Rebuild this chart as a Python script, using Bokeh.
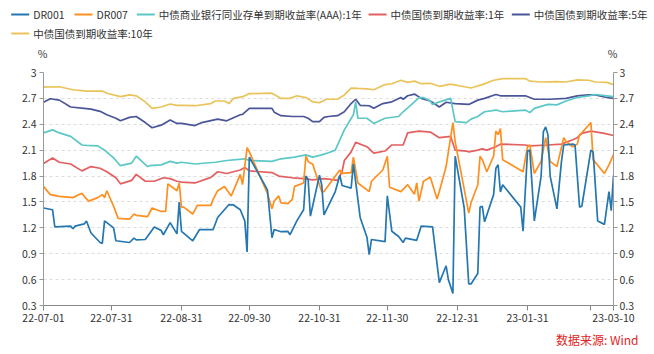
import pandas as pd
from bokeh.plotting import figure
from bokeh.layouts import column
from bokeh.models import Range1d, LinearAxis, FixedTicker, NumeralTickFormatter
from bokeh.core.properties import value
from bokeh.embed import file_html
from bokeh.resources import INLINE

# ---------------- data ----------------
cgb10_dates = ["2022-07-01","2022-07-08","2022-07-14","2022-07-20","2022-07-27","2022-07-29","2022-08-04","2022-08-08",
    "2022-08-11","2022-08-15","2022-08-18","2022-08-22","2022-08-26","2022-08-29","2022-08-31","2022-09-06","2022-09-13",
    "2022-09-15","2022-09-19","2022-09-21","2022-09-23","2022-09-27","2022-09-30","2022-10-10","2022-10-11","2022-10-14",
    "2022-10-18","2022-10-21","2022-10-25","2022-10-28","2022-10-31","2022-11-03","2022-11-08","2022-11-11","2022-11-14",
    "2022-11-17","2022-11-21","2022-11-24","2022-11-29","2022-12-02","2022-12-06","2022-12-09","2022-12-12","2022-12-15",
    "2022-12-19","2022-12-23","2022-12-28","2023-01-03","2023-01-06","2023-01-11","2023-01-16","2023-01-20","2023-01-30",
    "2023-02-01","2023-02-06","2023-02-13","2023-02-17","2023-02-22","2023-02-27","2023-03-02","2023-03-07","2023-03-10"]
cgb10_vals = [2.83,2.835,2.80,2.785,2.785,2.76,2.72,2.74,2.73,2.66,2.585,2.60,2.635,2.62,2.62,2.615,2.64,2.67,2.67,2.64,
    2.70,2.72,2.755,2.76,2.745,2.70,2.70,2.73,2.71,2.66,2.65,2.69,2.69,2.74,2.82,2.815,2.81,2.80,2.86,2.87,2.91,2.885,
    2.90,2.87,2.875,2.84,2.865,2.835,2.82,2.86,2.91,2.93,2.93,2.90,2.89,2.895,2.89,2.915,2.91,2.89,2.885,2.86]

cgb5_dates = ["2022-07-01","2022-07-04","2022-07-08","2022-07-13","2022-07-19","2022-07-22","2022-07-26","2022-07-29",
    "2022-08-02","2022-08-04","2022-08-08","2022-08-11","2022-08-15","2022-08-18","2022-08-22","2022-08-26","2022-08-29",
    "2022-08-31","2022-09-06","2022-09-09","2022-09-16","2022-09-20","2022-09-26","2022-09-27","2022-09-30","2022-10-10",
    "2022-10-11","2022-10-14","2022-10-19","2022-10-24","2022-10-26","2022-10-28","2022-10-31","2022-11-02","2022-11-04",
    "2022-11-08","2022-11-11","2022-11-14","2022-11-16","2022-11-18","2022-11-22","2022-11-24","2022-11-28","2022-12-02",
    "2022-12-06","2022-12-07","2022-12-09","2022-12-12","2022-12-15","2022-12-19","2022-12-23","2022-12-26","2022-12-30",
    "2023-01-05","2023-01-09","2023-01-12","2023-01-17","2023-01-19","2023-01-30","2023-02-03","2023-02-10","2023-02-17",
    "2023-02-22","2023-02-27","2023-03-02","2023-03-07","2023-03-10"]
cgb5_vals = [2.654,2.696,2.68,2.60,2.585,2.575,2.55,2.51,2.47,2.44,2.48,2.49,2.42,2.36,2.39,2.45,2.41,2.41,2.385,2.42,
    2.46,2.44,2.51,2.515,2.585,2.585,2.54,2.50,2.49,2.49,2.47,2.43,2.43,2.48,2.49,2.50,2.545,2.64,2.69,2.62,2.615,2.585,
    2.64,2.66,2.71,2.69,2.73,2.75,2.70,2.67,2.60,2.655,2.64,2.63,2.68,2.70,2.745,2.73,2.73,2.69,2.69,2.70,2.73,2.74,
    2.74,2.71,2.70]

ncd_dates = ["2022-07-01","2022-07-05","2022-07-08","2022-07-13","2022-07-18","2022-07-20","2022-07-25","2022-07-28",
    "2022-08-01","2022-08-04","2022-08-09","2022-08-11","2022-08-16","2022-08-17","2022-08-22","2022-08-26","2022-08-29",
    "2022-08-31","2022-09-06","2022-09-15","2022-09-20","2022-09-28","2022-09-30","2022-10-10","2022-10-14","2022-10-20",
    "2022-10-25","2022-10-28","2022-11-01","2022-11-04","2022-11-07","2022-11-11","2022-11-15","2022-11-16","2022-11-17",
    "2022-11-21","2022-11-24","2022-11-29","2022-12-05","2022-12-07","2022-12-12","2022-12-14","2022-12-16","2022-12-19",
    "2022-12-20","2022-12-23","2022-12-28","2022-12-30","2023-01-04","2023-01-06","2023-01-09","2023-01-10","2023-01-12",
    "2023-01-17","2023-01-20","2023-01-30","2023-02-01","2023-02-03","2023-02-09","2023-02-13","2023-02-17","2023-02-22",
    "2023-02-27","2023-03-02","2023-03-07","2023-03-10"]
ncd_vals = [2.30,2.335,2.30,2.26,2.16,2.155,2.15,2.10,2.01,1.92,1.95,2.03,1.91,1.92,1.93,1.97,1.95,1.96,1.94,1.96,1.98,
    2.00,1.98,1.97,2.00,2.02,2.045,2.02,2.045,2.07,2.10,2.335,2.51,2.66,2.47,2.47,2.41,2.47,2.49,2.545,2.66,2.71,2.71,
    2.67,2.63,2.66,2.70,2.43,2.42,2.46,2.49,2.51,2.545,2.565,2.545,2.565,2.535,2.585,2.63,2.625,2.67,2.71,2.73,2.745,
    2.73,2.72]

cgb1_dates = ["2022-07-01","2022-07-05","2022-07-08","2022-07-13","2022-07-18","2022-07-22","2022-07-26","2022-07-29",
    "2022-08-02","2022-08-04","2022-08-09","2022-08-11","2022-08-15","2022-08-19","2022-08-23","2022-08-26","2022-08-29",
    "2022-08-31","2022-09-06","2022-09-13","2022-09-16","2022-09-20","2022-09-26","2022-09-28","2022-09-30","2022-10-10",
    "2022-10-13","2022-10-19","2022-10-24","2022-10-28","2022-11-02","2022-11-04","2022-11-08","2022-11-10","2022-11-11",
    "2022-11-14","2022-11-16","2022-11-21","2022-11-24","2022-11-29","2022-12-02","2022-12-07","2022-12-09","2022-12-14",
    "2022-12-19","2022-12-23","2022-12-28","2022-12-30","2023-01-04","2023-01-05","2023-01-09","2023-01-11","2023-01-13",
    "2023-01-17","2023-01-19","2023-01-30","2023-02-01","2023-02-09","2023-02-15","2023-02-20","2023-02-22","2023-02-24",
    "2023-02-28","2023-03-06","2023-03-10"]
cgb1_vals = [1.946,2.01,1.96,1.94,1.86,1.91,1.89,1.85,1.78,1.71,1.75,1.82,1.74,1.74,1.78,1.77,1.74,1.73,1.72,1.785,1.85,
    1.83,1.87,1.90,1.86,1.84,1.80,1.78,1.77,1.755,1.77,1.765,1.75,1.85,1.98,2.08,2.19,2.14,2.065,2.09,2.16,2.16,2.30,
    2.32,2.31,2.245,2.26,2.10,2.09,2.08,2.10,2.115,2.10,2.14,2.17,2.16,2.15,2.16,2.17,2.22,2.245,2.295,2.32,2.295,2.27]

dr007_dates = ["2022-07-01","2022-07-04","2022-07-08","2022-07-14","2022-07-18","2022-07-19","2022-07-21","2022-07-25",
    "2022-07-27","2022-07-28","2022-07-29","2022-08-01","2022-08-03","2022-08-08","2022-08-10","2022-08-11","2022-08-16",
    "2022-08-18","2022-08-22","2022-08-24","2022-08-25","2022-08-29","2022-08-30","2022-08-31","2022-09-01","2022-09-05",
    "2022-09-07","2022-09-13","2022-09-14","2022-09-16","2022-09-19","2022-09-22","2022-09-26","2022-09-27","2022-09-29",
    "2022-09-30","2022-10-08","2022-10-10","2022-10-11","2022-10-13","2022-10-14","2022-10-17","2022-10-19","2022-10-20",
    "2022-10-24","2022-10-25","2022-10-26","2022-10-27","2022-10-28","2022-10-31","2022-11-01","2022-11-02","2022-11-09",
    "2022-11-10","2022-11-14","2022-11-15","2022-11-17","2022-11-22","2022-11-23","2022-11-28","2022-11-30","2022-12-01",
    "2022-12-06","2022-12-09","2022-12-12","2022-12-13","2022-12-14","2022-12-16","2022-12-19","2022-12-22","2022-12-23",
    "2022-12-26","2022-12-29","2022-12-30","2023-01-04","2023-01-05","2023-01-06","2023-01-09","2023-01-10","2023-01-11",
    "2023-01-13","2023-01-16","2023-01-17","2023-01-18","2023-01-19","2023-01-20","2023-01-29","2023-01-31","2023-02-01",
    "2023-02-03","2023-02-06","2023-02-08","2023-02-10","2023-02-13","2023-02-16","2023-02-17","2023-02-20","2023-02-22",
    "2023-02-23","2023-02-24","2023-02-28","2023-03-01","2023-03-06","2023-03-08","2023-03-10"]
dr007_vals = [1.68,1.585,1.565,1.55,1.60,1.565,1.51,1.55,1.585,1.55,1.63,1.45,1.31,1.30,1.36,1.345,1.33,1.43,1.39,1.39,
    1.71,1.63,1.72,1.44,1.44,1.36,1.46,1.46,1.53,1.63,1.68,1.57,1.82,1.70,2.13,2.08,1.60,1.42,1.51,1.57,1.49,1.48,1.53,
    1.68,1.72,2.03,1.97,1.95,1.94,1.70,1.62,1.62,1.87,1.83,1.84,2.02,1.72,1.62,1.74,1.87,2.03,1.67,1.62,1.70,1.59,1.72,
    1.51,1.74,1.785,1.535,1.62,1.91,2.42,2.20,1.51,1.37,1.49,1.70,2.03,1.99,1.85,2.03,2.32,2.28,2.35,1.99,1.85,2.14,2.16,
    1.83,1.97,2.245,1.97,1.91,2.245,2.20,2.14,2.17,2.28,2.30,2.42,1.99,1.83,1.93,2.05]

dr001_dates = ["2022-07-01","2022-07-05","2022-07-06","2022-07-13","2022-07-14","2022-07-15","2022-07-19","2022-07-20",
    "2022-07-22","2022-07-26","2022-07-27","2022-07-28","2022-08-01","2022-08-02","2022-08-08","2022-08-10","2022-08-11",
    "2022-08-15","2022-08-19","2022-08-22","2022-08-23","2022-08-26","2022-08-29","2022-08-30","2022-08-31","2022-09-05",
    "2022-09-08","2022-09-14","2022-09-16","2022-09-21","2022-09-23","2022-09-26","2022-09-28","2022-09-29","2022-09-30",
    "2022-10-08","2022-10-10","2022-10-11","2022-10-14","2022-10-17","2022-10-18","2022-10-21","2022-10-24","2022-10-25",
    "2022-10-26","2022-10-27","2022-10-31","2022-11-01","2022-11-02","2022-11-07","2022-11-09","2022-11-10","2022-11-14",
    "2022-11-15","2022-11-18","2022-11-21","2022-11-22","2022-11-23","2022-11-29","2022-11-30","2022-12-02","2022-12-05",
    "2022-12-07","2022-12-08","2022-12-13","2022-12-15","2022-12-20","2022-12-23","2022-12-26","2022-12-27","2022-12-29",
    "2022-12-30","2023-01-03","2023-01-05","2023-01-06","2023-01-09","2023-01-10","2023-01-11","2023-01-12","2023-01-16",
    "2023-01-17","2023-01-18","2023-01-19","2023-01-20","2023-01-28","2023-01-29","2023-01-31","2023-02-01","2023-02-03",
    "2023-02-06","2023-02-07","2023-02-08","2023-02-09","2023-02-10","2023-02-13","2023-02-15","2023-02-16","2023-02-20",
    "2023-02-21","2023-02-23","2023-02-24","2023-02-28","2023-03-01","2023-03-03","2023-03-06","2023-03-08","2023-03-09",
    "2023-03-10"]
dr001_vals = [1.43,1.41,1.21,1.22,1.19,1.22,1.245,1.28,1.14,1.03,1.02,1.28,1.20,1.05,1.03,1.08,1.06,1.065,1.21,1.17,1.12,
    1.26,1.13,1.50,1.16,1.05,1.18,1.18,1.32,1.47,1.465,1.41,1.28,0.92,2.02,1.64,1.085,1.18,1.155,1.16,1.12,1.28,1.41,1.80,
    1.76,1.335,1.81,1.70,1.35,1.62,1.81,1.69,1.66,1.94,1.32,1.09,0.89,1.065,1.04,1.57,1.16,1.10,1.03,1.08,1.055,1.22,1.21,
    0.565,0.76,0.60,0.44,2.03,1.43,0.55,0.55,0.67,1.44,1.45,1.27,1.585,1.89,1.93,1.615,1.70,1.44,1.16,2.09,2.10,1.28,1.80,
    2.315,2.37,2.28,1.80,1.42,1.97,2.16,2.17,2.16,1.44,1.45,2.10,2.08,1.28,1.24,1.62,1.40,1.81]

series_names = ["DR001", "DR007", "中债商业银行同业存单到期收益率(AAA):1年", "中债国债到期收益率:1年",
                "中债国债到期收益率:5年", "中债国债到期收益率:10年"]
y_ticks = [0.3, 0.6, 0.9, 1.2, 1.5, 1.8, 2.1, 2.4, 2.7, 3.0]
x_tick_dates = ["2022-07-01", "2022-07-31", "2022-08-31", "2022-09-30", "2022-10-31", "2022-11-30",
                "2022-12-31", "2023-01-31", "2023-02-28", "2023-03-10"]
x_tick_labels = ["22-07-01", "22-07-31", "22-08-31", "22-09-30", "22-10-31", "22-11-30",
                 "22-12-31", "23-01-31", "", "23-03-10"]
unit_text = "%"
source_text = "数据来源: Wind"

# ---------------- style / layout ----------------
colors = ["#2477B0", "#FF8F1F", "#5CC7C7", "#E45F5F", "#4B559A", "#EAC35A"]
FONT = "Noto Sans CJK SC"
W = 654
HEAD_H = 60          # header strip (legend + unit labels)
FOOT_H = 25          # footer strip (source)
MAIN_H = 354 - HEAD_H - FOOT_H
FL, FR = 43, 613     # frame left / right in canvas px
FT, FB = 72, 305     # frame top / bottom in canvas px


def strip(height):
    f = figure(width=W, height=height, x_range=Range1d(0, W), y_range=Range1d(height, 0),
               output_backend="svg", toolbar_location=None, frame_align=False,
               min_border_left=0, min_border_right=0, min_border_top=0, min_border_bottom=0)
    f.axis.visible = False
    f.grid.visible = False
    f.outline_line_color = None
    f.background_fill_color = "white"
    f.border_fill_color = "white"
    return f


# header: legend
head = strip(HEAD_H)
leg_tx = [32.7, 96, 158.3, 390, 533.3, 32.7]
leg_ty = [14, 14, 14, 14, 14, 33]
head.segment(x0=[t - 22 for t in leg_tx], y0=leg_ty, x1=[t - 4 for t in leg_tx], y1=leg_ty,
             line_color=colors, line_width=2)
head.text(x=leg_tx, y=leg_ty, text=series_names, text_font=value(FONT), text_font_size=value("10.5px"),
          text_color="#333333", text_align="left", text_baseline="middle")
head.text(x=[42, 612], y=[53, 53], text=[unit_text, unit_text], text_font=value(FONT),
          text_font_size=value("10.5px"), text_color="#333333", text_align="center", text_baseline="middle")

# main plot
p = figure(width=W, height=MAIN_H, x_axis_type="datetime",
           x_range=Range1d(pd.Timestamp("2022-07-01"), pd.Timestamp("2023-03-10")),
           y_range=Range1d(0.3, 3.0),
           output_backend="svg", toolbar_location=None, frame_align=False,
           min_border_left=FL, min_border_right=W - FR,
           min_border_top=FT - HEAD_H, min_border_bottom=HEAD_H + MAIN_H - FB)
p.outline_line_color = None
p.background_fill_color = "white"
p.border_fill_color = "white"
p.xgrid.visible = False
p.ygrid.ticker = FixedTicker(ticks=y_ticks)
p.ygrid.grid_line_color = "#dddddd"
p.ygrid.grid_line_dash = "3 3"
p.ygrid.grid_line_width = 1

data = [(dr001_dates, dr001_vals), (dr007_dates, dr007_vals), (ncd_dates, ncd_vals),
        (cgb1_dates, cgb1_vals), (cgb5_dates, cgb5_vals), (cgb10_dates, cgb10_vals)]
for i in reversed(range(6)):
    d, v = data[i]
    p.line(pd.to_datetime(d), v, line_color=colors[i], line_width=1.7)


def style_axis(ax, color):
    ax.axis_line_color = color
    ax.major_tick_line_color = color
    ax.minor_tick_line_color = None
    ax.major_tick_in = 0
    ax.major_tick_out = 4
    ax.major_label_text_font = FONT
    ax.major_label_text_font_size = "10.5px"
    ax.major_label_text_color = "#333333"


ly = p.yaxis[0]
ly.ticker = FixedTicker(ticks=y_ticks)
ly.formatter = NumeralTickFormatter(format="0.[0]")
style_axis(ly, "#999999")
ly.major_label_standoff = 3

ry = LinearAxis(ticker=FixedTicker(ticks=y_ticks), formatter=NumeralTickFormatter(format="0.[0]"))
style_axis(ry, "#999999")
ry.major_label_standoff = 2
p.add_layout(ry, "right")

xt = [float(pd.Timestamp(s).value // 10**6) for s in x_tick_dates]
bx = p.xaxis[0]
bx.ticker = FixedTicker(ticks=xt)
bx.major_label_overrides = {t: lab for t, lab in zip(xt, x_tick_labels)}
style_axis(bx, "#888888")
bx.major_tick_out = 5
bx.major_label_standoff = 3

# footer: data source
foot = strip(FOOT_H)
foot.text(x=[638], y=[339 - (354 - FOOT_H)], text=[source_text], text_font=value(FONT),
          text_font_size=value("12px"), text_color="#E02424", text_align="right", text_baseline="middle")

layout = column(head, p, foot, spacing=0)
open("out.html", "w").write(file_html(layout, INLINE))
